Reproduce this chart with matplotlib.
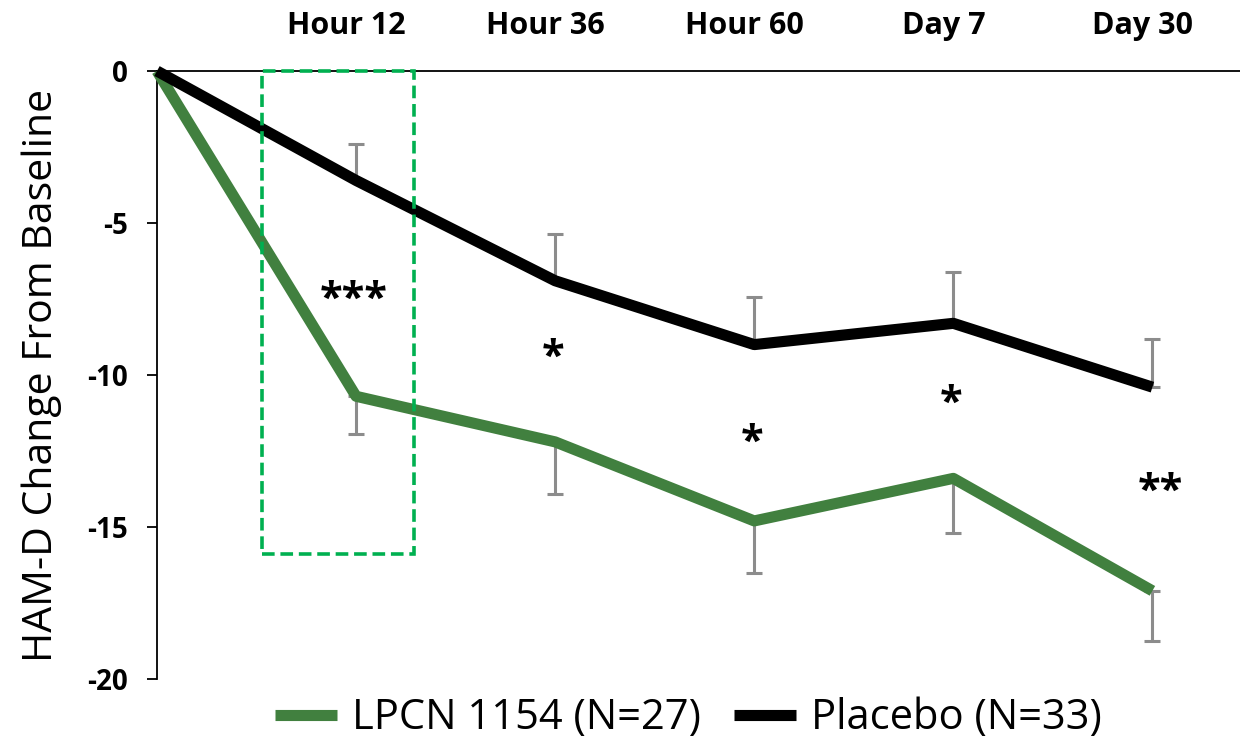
import numpy as np
import matplotlib.pyplot as plt
from matplotlib.patches import Rectangle

plt.rcParams['font.family'] = ['Open Sans', 'DejaVu Sans']
plt.rcParams['axes.unicode_minus'] = False

# time points (0 = baseline)
timepoints = ['Baseline', 'Hour 12', 'Hour 36', 'Hour 60', 'Day 7', 'Day 30']
lpcn = [0, -10.7, -12.2, -14.8, -13.4, -17.1]
lpcn_err = [0, 1.25, 1.7, 1.7, 1.8, 1.65]
placebo = [0, -3.6, -6.9, -9.0, -8.3, -10.4]
placebo_err = [0, 1.2, 1.55, 1.55, 1.7, 1.6]
stars = ['***', '*', '*', '*', '**']
star_y = [-7.3, -9.2, -12.0, -10.7, -13.6]
star_x = [0.99, 1.99, 2.99, 3.99, 5.04]

green = '#41803F'
x = np.arange(len(timepoints))

fig = plt.figure(figsize=(12.4, 7.42), dpi=100)
ax = fig.add_axes([0.1266, 0.0849, 0.8734, 0.8194])

# error bars: one side only
ax.errorbar(x[1:], lpcn[1:], yerr=[lpcn_err[1:], [0]*5], fmt='none',
            ecolor='#8C8C8C', elinewidth=2.2, capsize=6, capthick=2.2, zorder=2)
ax.errorbar(x[1:], placebo[1:], yerr=[[0]*5, placebo_err[1:]], fmt='none',
            ecolor='#8C8C8C', elinewidth=2.2, capsize=6, capthick=2.2, zorder=2)

ax.plot(x, lpcn, color=green, lw=8, solid_capstyle='butt', zorder=3,
        label='LPCN 1154 (N=27)', clip_on=False)
ax.plot(x, placebo, color='black', lw=8, solid_capstyle='butt', zorder=3,
        label='Placebo (N=33)', clip_on=False)

for sx, sy, s in zip(star_x, star_y, stars):
    ax.text(sx, sy - 0.25, s, ha='center', va='center', fontsize=30, fontweight='bold')

# highlight box around Hour 12
ax.add_patch(Rectangle((0.53, -15.9), 0.76, 15.9, fill=False, edgecolor='#00B050',
                       lw=2.6, linestyle=(0, (3.5, 1.6)), zorder=4, clip_on=False))

# time point labels above the plot
for xi, name in zip(x[1:], timepoints[1:]):
    ax.text(xi - 0.05, 1.48, name, ha='center', va='center', fontsize=22,
            fontweight='bold', clip_on=False)

ax.set_xlim(0, 5.44)
ax.set_ylim(-20, 0)
ax.set_xticks([])
ax.set_yticks([0, -5, -10, -15, -20])
ax.tick_params(axis='y', labelsize=20, length=7, width=1.3, pad=14)
for lab in ax.get_yticklabels():
    lab.set_fontweight('bold')
ax.spines['right'].set_visible(False)
ax.spines['bottom'].set_visible(False)
ax.spines['left'].set_linewidth(1.3)
ax.spines['top'].set_linewidth(1.3)
ax.set_ylabel('HAM-D Change From Baseline', fontsize=29.5, labelpad=18)

ax.legend(loc='center', bbox_to_anchor=(0.555, 0.032), bbox_transform=fig.transFigure,
          ncol=2, frameon=False, fontsize=30, handlelength=1.5, handletextpad=0.35,
          columnspacing=0.8)

fig.savefig('out.png', dpi=100)
